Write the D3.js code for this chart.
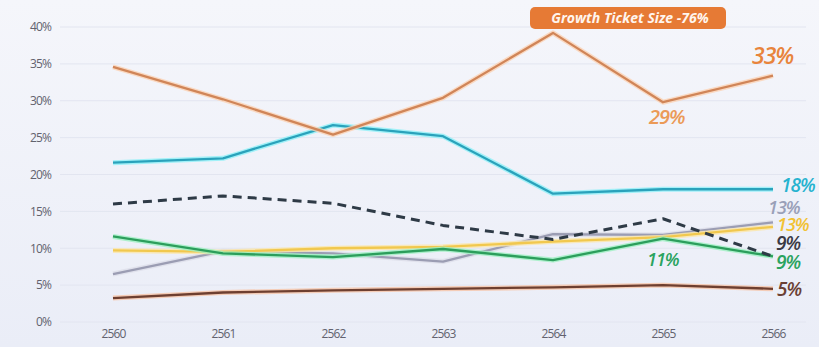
<!DOCTYPE html>
<html>
<head>
<meta charset="utf-8">
<script src="https://d3js.org/d3.v7.min.js"></script>
<style>
  body { margin: 0; background: #eff1f8; }
  svg { display: block; }
  .tick text { font-family: "Open Sans", sans-serif; font-size: 12px; fill: #62626e; letter-spacing: -0.9px; }
  .lbl { font-family: "Open Sans", sans-serif; font-style: italic; font-weight: 600; letter-spacing: -1px; }
</style>
</head>
<body>
<svg width="819" height="347"></svg>
<script>
var svg = d3.select('svg');

// data
var years = ['2560', '2561', '2562', '2563', '2564', '2565', '2566'];
var yTicks = [0, 5, 10, 15, 20, 25, 30, 35, 40];

var orange = [34.6, 30.2, 25.4, 30.4, 39.2, 29.8, 33.4];
var cyan   = [21.6, 22.2, 26.7, 25.2, 17.4, 18.0, 18.0];
var dashed = [16.0, 17.1, 16.1, 13.1, 11.2, 14.0, 8.9];
var green  = [11.6, 9.3, 8.8, 9.9, 8.4, 11.3, 8.9];
var yellow = [9.7, 9.5, 10.0, 10.2, 10.9, 11.5, 12.9];
var gray   = [6.5, 9.6, 9.3, 8.2, 11.9, 11.8, 13.5];
var brown  = [3.25, 4.0, 4.3, 4.5, 4.7, 5.0, 4.5];

var badgeText = 'Growth Ticket Size -76%';

// background gradient
var defs = svg.append('defs');
var grad = defs.append('linearGradient').attr('id', 'bg').attr('x1', 0).attr('y1', 0).attr('x2', 0).attr('y2', 1);
grad.append('stop').attr('offset', '0%').attr('stop-color', '#f5f6fb');
grad.append('stop').attr('offset', '100%').attr('stop-color', '#eaedf7');
svg.append('rect').attr('width', 819).attr('height', 347).attr('fill', 'url(#bg)');

var x = d3.scalePoint().domain(years).range([113, 773]);
var y = d3.scaleLinear().domain([0, 40]).range([322, 27]);

// grid lines
svg.append('g')
    .selectAll('line')
    .data(yTicks)
    .enter()
    .append('line')
    .attr('x1', 60)
    .attr('x2', 806)
    .attr('y1', function(d){ return y(d); })
    .attr('y2', function(d){ return y(d); })
    .attr('stroke', '#e2e5f0')
    .attr('stroke-width', 1);

// axes
var yAxis = svg.append('g')
    .attr('transform', 'translate(51,0)')
    .call(d3.axisLeft(y).tickValues(yTicks).tickSize(0).tickPadding(0).tickFormat(function(d){ return d + '%'; }));
yAxis.select('.domain').remove();

var xAxis = svg.append('g')
    .attr('transform', 'translate(0,324)')
    .call(d3.axisBottom(x).tickSize(0).tickPadding(5));
xAxis.select('.domain').remove();

var line = d3.line()
    .x(function(d, i){ return x(years[i]); })
    .y(function(d){ return y(d); });

var series = [
    {values: brown,  color: '#6e3f30', glow: '#f6c3a6', dash: null},
    {values: gray,   color: '#9b9db3', glow: '#dcdde8', dash: null},
    {values: yellow, color: '#f1c84e', glow: '#fbe6a8', dash: null},
    {values: green,  color: '#2c9e5c', glow: '#9cf0c0', dash: null},
    {values: dashed, color: '#2e3a46', glow: null, dash: '9,6'},
    {values: cyan,   color: '#2aa2bb', glow: '#8ef0f8', dash: null},
    {values: orange, color: '#d08558', glow: '#fbd2b4', dash: null}
];

series.forEach(function(s){
    if (s.glow) {
        svg.append('path')
            .attr('d', line(s.values))
            .attr('fill', 'none')
            .attr('stroke', s.glow)
            .attr('stroke-width', 5)
            .attr('stroke-opacity', 0.8)
            .attr('stroke-linejoin', 'round');
    }
    svg.append('path')
        .attr('d', line(s.values))
        .attr('fill', 'none')
        .attr('stroke', s.color)
        .attr('stroke-width', s.dash ? 3 : 2.3)
        .attr('stroke-dasharray', s.dash)
        .attr('stroke-linejoin', 'round');
});

// badge
var badge = svg.append('g');
badge.append('rect')
    .attr('x', 530).attr('y', 7).attr('width', 196).attr('height', 22)
    .attr('rx', 5)
    .attr('fill', '#e67a35');
badge.append('text')
    .attr('x', 630).attr('y', 23)
    .attr('text-anchor', 'middle')
    .attr('font-family', 'Open Sans, sans-serif')
    .attr('font-size', 14)
    .attr('font-weight', 700)
    .attr('font-style', 'italic')
    .attr('fill', '#fff5ee')
    .text(badgeText);

// value labels
var labels = [
    {text: '33%', x: 752, y: 56,  color: '#e8843c', size: 23},
    {text: '29%', x: 649, y: 117, color: '#eb9a57', size: 20},
    {text: '18%', x: 781, y: 185, color: '#26b3cf', size: 19},
    {text: '13%', x: 768, y: 208, color: '#9aa0b8', size: 18},
    {text: '13%', x: 777, y: 225, color: '#f2c233', size: 18},
    {text: '9%',  x: 776, y: 243, color: '#3a3a44', size: 19},
    {text: '9%',  x: 776, y: 262, color: '#2aa35f', size: 19},
    {text: '5%',  x: 777, y: 289, color: '#6b4034', size: 19},
    {text: '11%', x: 647, y: 260, color: '#2aa35f', size: 18}
];

svg.selectAll('text.lbl')
    .data(labels)
    .enter()
    .append('text')
    .attr('class', 'lbl')
    .attr('x', function(d){ return d.x; })
    .attr('y', function(d){ return d.y; })
    .attr('dy', '0.35em')
    .attr('font-size', function(d){ return d.size; })
    .attr('fill', function(d){ return d.color; })
    .text(function(d){ return d.text; });
</script>
</body>
</html>
